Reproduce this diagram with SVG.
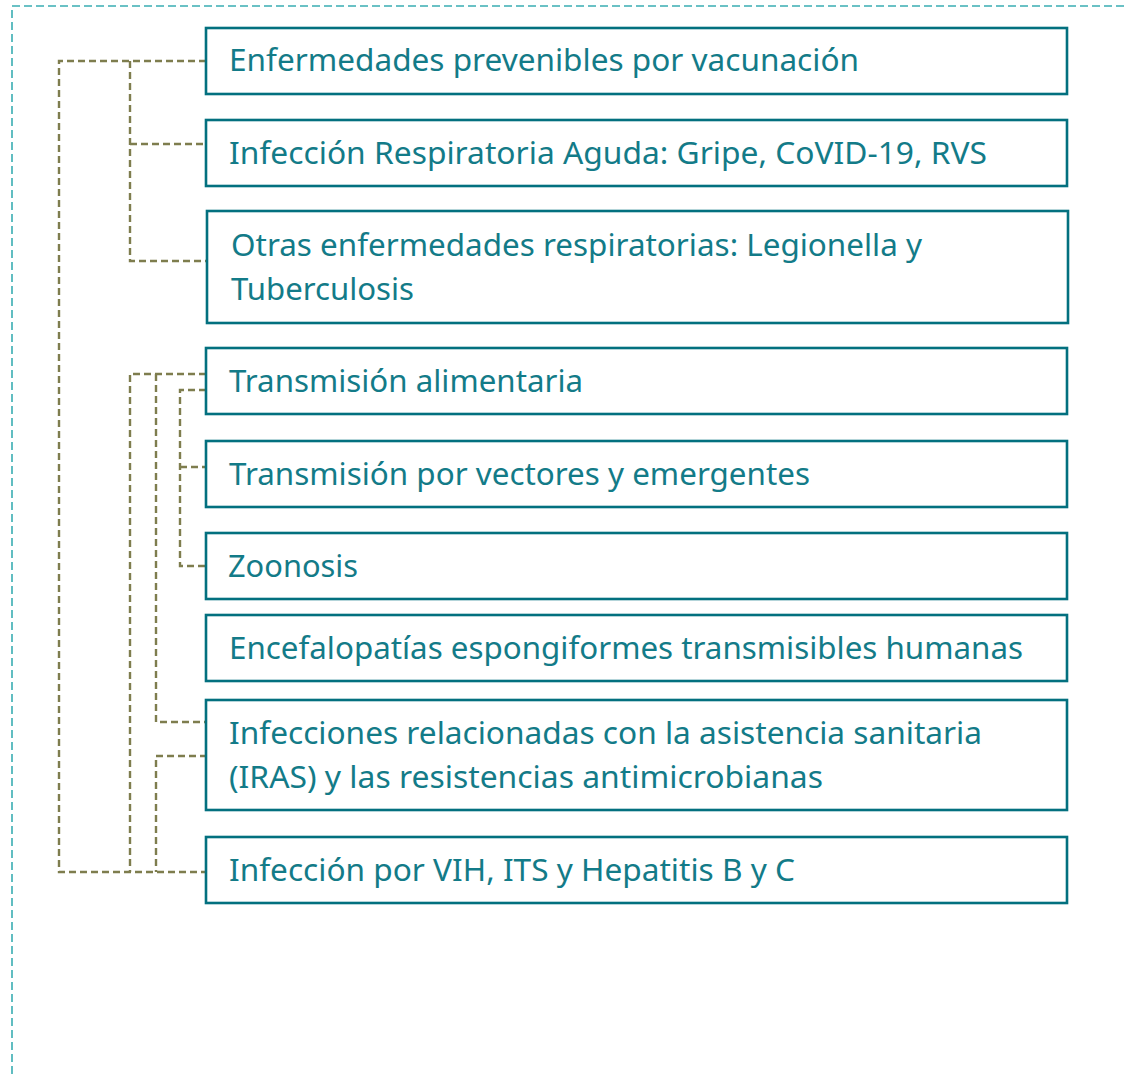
<svg xmlns="http://www.w3.org/2000/svg" width="1128" height="1077" viewBox="0 0 1128 1077">
<style>
.frame{fill:none;stroke:#3AADB2;stroke-width:1.6;stroke-dasharray:8 4}
.box{fill:#fff;stroke:#03707F;stroke-width:2.6}
.t{font-family:"Noto Sans","Open Sans",sans-serif;font-size:31px;fill:#137B88}
.c{fill:none;stroke:#7E7D4E;stroke-width:2.4;stroke-dasharray:7 4}
</style>
<rect width="1128" height="1077" fill="#fff"/>
<rect class="frame" x="12" y="6" width="1200" height="1200"/>
<g id="connectors">
<path class="c" d="M206 61H59V872H206"/>
<path class="c" d="M130 61V261H207"/>
<path class="c" d="M130 144H206"/>
<path class="c" d="M206 374H130V872"/>
<path class="c" d="M156 374V722H207"/>
<path class="c" d="M207 756H156V872"/>
<path class="c" d="M206 390H180V566H206"/>
<path class="c" d="M180 467H206"/>
</g>
<g id="n1"><rect class="box" x="206" y="28" width="861" height="66"/><text class="t" x="229" y="71" textLength="630" lengthAdjust="spacingAndGlyphs">Enfermedades prevenibles por vacunación</text></g>
<g id="n2"><rect class="box" x="206" y="120" width="861" height="66"/><text class="t" x="229" y="163.5" textLength="758" lengthAdjust="spacingAndGlyphs">Infección Respiratoria Aguda: Gripe, CoVID-19, RVS</text></g>
<g id="n3"><rect class="box" x="207" y="211" width="861" height="112"/><text class="t" x="231" y="256" textLength="691" lengthAdjust="spacingAndGlyphs">Otras enfermedades respiratorias: Legionella y</text><text class="t" x="231" y="300" textLength="183" lengthAdjust="spacingAndGlyphs">Tuberculosis</text></g>
<g id="n4"><rect class="box" x="206" y="348" width="861" height="66"/><text class="t" x="229" y="392" textLength="354" lengthAdjust="spacingAndGlyphs">Transmisión alimentaria</text></g>
<g id="n5"><rect class="box" x="206" y="441" width="861" height="66"/><text class="t" x="229" y="484.5" textLength="581" lengthAdjust="spacingAndGlyphs">Transmisión por vectores y emergentes</text></g>
<g id="n6"><rect class="box" x="206" y="533" width="861" height="66"/><text class="t" x="228" y="577" textLength="130" lengthAdjust="spacingAndGlyphs">Zoonosis</text></g>
<g id="n7"><rect class="box" x="206" y="615" width="861" height="66"/><text class="t" x="229" y="658.5" textLength="794" lengthAdjust="spacingAndGlyphs">Encefalopatías espongiformes transmisibles humanas</text></g>
<g id="n8"><rect class="box" x="206" y="700" width="861" height="110"/><text class="t" x="229" y="744" textLength="753" lengthAdjust="spacingAndGlyphs">Infecciones relacionadas con la asistencia sanitaria</text><text class="t" x="229" y="788" textLength="594" lengthAdjust="spacingAndGlyphs">(IRAS) y las resistencias antimicrobianas</text></g>
<g id="n9"><rect class="box" x="206" y="837" width="861" height="66"/><text class="t" x="229" y="881" textLength="566" lengthAdjust="spacingAndGlyphs">Infección por VIH, ITS y Hepatitis B y C</text></g>
</svg>
